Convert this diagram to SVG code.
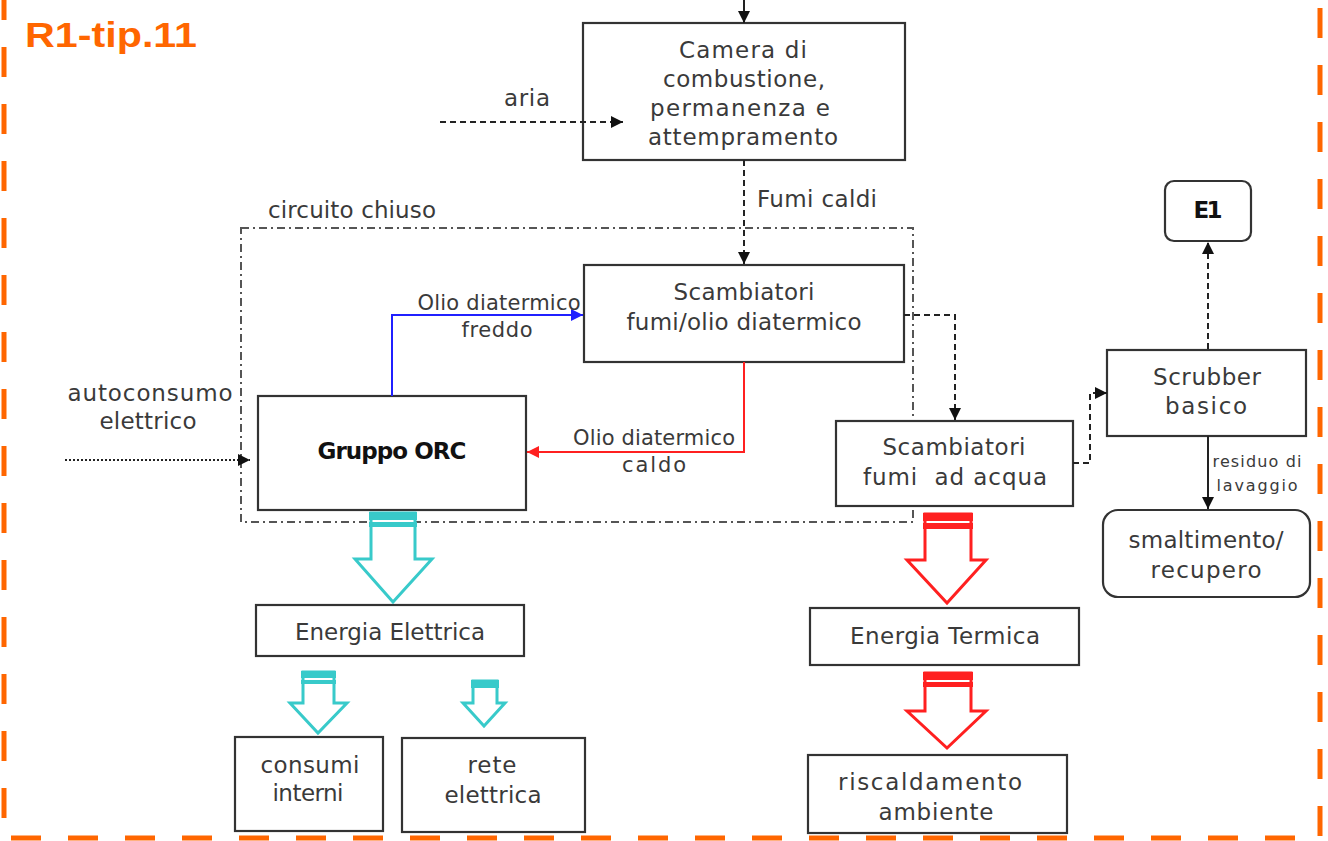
<svg xmlns="http://www.w3.org/2000/svg" width="1328" height="841" viewBox="0 0 1328 841">
<style>
.t{font-family:"DejaVu Sans","Liberation Sans",sans-serif;font-size:23px;fill:#3a3a3a;text-anchor:middle}
.s{font-size:21px}
.xs{font-size:16px}
.b{font-weight:bold;fill:#111}
.box{fill:#fff;stroke:#333;stroke-width:2.2}
.c{fill:none;stroke:#222;stroke-width:2}
.d{stroke-dasharray:6 4}
.dot{stroke-dasharray:2 2}
.dd{fill:none;stroke:#555;stroke-width:2;stroke-dasharray:8 4 2 4}
.cy{fill:#fff;stroke:#38CACA;stroke-width:3}
.cyf{fill:#38CACA}
.rd{fill:#fff;stroke:#FF2020;stroke-width:3}
.rdf{fill:#FF2020}
</style>
<defs>
<marker id="ab" viewBox="0 0 12 12" refX="12" refY="6" markerWidth="12" markerHeight="12" markerUnits="userSpaceOnUse" orient="auto"><path d="M0,0 L12,6 L0,12 z" fill="#111"/></marker>
<marker id="abl" viewBox="0 0 12 12" refX="12" refY="6" markerWidth="12" markerHeight="12" markerUnits="userSpaceOnUse" orient="auto"><path d="M0,0 L12,6 L0,12 z" fill="#2020FF"/></marker>
<marker id="ar" viewBox="0 0 12 12" refX="12" refY="6" markerWidth="12" markerHeight="12" markerUnits="userSpaceOnUse" orient="auto"><path d="M0,0 L12,6 L0,12 z" fill="#FF2020"/></marker>
</defs>
<rect width="1328" height="841" fill="#fff"/>
<g id="border">
<path d="M4,0 V838 H1320 V0" fill="none" stroke="#FF6600" stroke-width="5" stroke-dasharray="30 27" stroke-dashoffset="10"/>
<text x="25" y="47" font-family="Liberation Sans,sans-serif" font-weight="bold" font-size="35" fill="#FF6600" textLength="172" lengthAdjust="spacingAndGlyphs">R1-tip.11</text>
</g>
<g id="circuito">
<rect x="241" y="228" width="672" height="294" class="dd"/>
<text class="t" x="352" y="218" textLength="168">circuito chiuso</text>
</g>
<g id="camera">
<rect x="583" y="23" width="322" height="137" class="box"/>
<text class="t" x="743" y="58" textLength="128">Camera di</text>
<text class="t" x="744" y="87" textLength="162">combustione,</text>
<text class="t" x="740" y="116" textLength="180">permanenza e</text>
<text class="t" x="743" y="145" textLength="190">attempramento</text>
</g>
<g id="scamb-olio">
<rect x="584" y="265" width="320" height="97" class="box"/>
<text class="t" x="744" y="300" textLength="141">Scambiatori</text>
<text class="t" x="744" y="330" textLength="235">fumi/olio diatermico</text>
</g>
<g id="orc">
<rect x="258" y="396" width="268" height="114" class="box"/>
<text class="t b" x="392" y="459" textLength="149">Gruppo ORC</text>
</g>
<g id="scamb-acqua">
<rect x="836" y="421" width="237" height="85" class="box"/>
<text class="t" x="954" y="455" textLength="143">Scambiatori</text>
<text class="t" x="955" y="485" textLength="184" xml:space="preserve">fumi  ad acqua</text>
</g>
<g id="scrubber">
<rect x="1107" y="350" width="199" height="86" class="box"/>
<text class="t" x="1207" y="385" textLength="108">Scrubber</text>
<text class="t" x="1206" y="414" textLength="82">basico</text>
</g>
<g id="e1">
<rect x="1165" y="181" width="86" height="60" rx="9" class="box"/>
<text class="t b" x="1208" y="218" textLength="29">E1</text>
</g>
<g id="smaltimento">
<rect x="1103" y="510" width="207" height="87" rx="15" class="box"/>
<text class="t" x="1206" y="548" textLength="155">smaltimento/</text>
<text class="t" x="1206" y="578" textLength="111">recupero</text>
</g>
<g id="energia-elettrica">
<rect x="256" y="605" width="268" height="51" class="box"/>
<text class="t" x="390" y="640" textLength="190">Energia Elettrica</text>
</g>
<g id="consumi">
<rect x="235" y="737" width="148" height="94" class="box"/>
<text class="t" x="310" y="773" textLength="99">consumi</text>
<text class="t" x="308" y="801" textLength="71">interni</text>
</g>
<g id="rete">
<rect x="402" y="738" width="183" height="94" class="box"/>
<text class="t" x="492" y="773" textLength="49">rete</text>
<text class="t" x="493" y="803" textLength="97">elettrica</text>
</g>
<g id="energia-termica">
<rect x="810" y="608" width="269" height="57" class="box"/>
<text class="t" x="945" y="644" textLength="190">Energia Termica</text>
</g>
<g id="riscaldamento">
<rect x="808" y="755" width="259" height="78" class="box"/>
<text class="t" x="930" y="790" textLength="184">riscaldamento</text>
<text class="t" x="936" y="820" textLength="115">ambiente</text>
</g>
<g id="connectors">
<line x1="744" y1="0" x2="744" y2="23" class="c" marker-end="url(#ab)"/>
<line x1="440" y1="122" x2="623" y2="122" class="c d" marker-end="url(#ab)"/>
<line x1="744" y1="160" x2="744" y2="264" class="c d" marker-end="url(#ab)"/>
<polyline points="392,396 392,315 583,315" fill="none" stroke="#2020FF" stroke-width="2" marker-end="url(#abl)"/>
<polyline points="744,362 744,452 527,452" fill="none" stroke="#FF2020" stroke-width="2" marker-end="url(#ar)"/>
<polyline points="904,315 955,315 955,420" class="c d" marker-end="url(#ab)"/>
<polyline points="1073,463 1090,463 1090,393 1107,393" class="c d" marker-end="url(#ab)"/>
<line x1="1208" y1="349" x2="1208" y2="242" class="c d" marker-end="url(#ab)"/>
<line x1="1208" y1="436" x2="1208" y2="509" class="c" marker-end="url(#ab)"/>
<line x1="65" y1="460" x2="250" y2="460" class="c dot" marker-end="url(#ab)"/>
<text class="t" x="527" y="106" textLength="46">aria</text>
<text class="t" x="817" y="207" textLength="120">Fumi caldi</text>
<text class="t s" x="499" y="310" textLength="163">Olio diatermico</text>
<text class="t s" x="497" y="337" textLength="71">freddo</text>
<text class="t s" x="654" y="445" textLength="162">Olio diatermico</text>
<text class="t s" x="654" y="472" textLength="64">caldo</text>
<text class="t xs" x="1257" y="467" textLength="89">residuo di</text>
<text class="t xs" x="1257" y="491" textLength="81">lavaggio</text>
<text class="t" x="150" y="401" textLength="165">autoconsumo</text>
<text class="t" x="148" y="429" textLength="97">elettrico</text>
</g>
<g id="arrows">
<polygon points="371,513 415,513 415,559 432,559 393,602 355,559 371,559" class="cy"/>
<rect x="369" y="512" width="48" height="8" class="cyf"/>
<rect x="369" y="522" width="48" height="5" class="cyf"/>
<polygon points="303,672 334,672 334,703 347,703 318,733 290,703 303,703" class="cy"/>
<rect x="301" y="671" width="35" height="7" class="cyf"/>
<rect x="301" y="680" width="35" height="4" class="cyf"/>
<polygon points="473,681 497,681 497,703 505,703 484,726 463,703 473,703" class="cy"/>
<rect x="471" y="680" width="28" height="8" class="cyf"/>
<polygon points="925,514 971,514 971,560 986,560 947,603 907,560 925,560" class="rd"/>
<rect x="923" y="513" width="50" height="8" class="rdf"/>
<rect x="923" y="523" width="50" height="6" class="rdf"/>
<polygon points="925,673 971,673 971,711 986,711 947,748 907,711 925,711" class="rd"/>
<rect x="923" y="672" width="50" height="8" class="rdf"/>
<rect x="923" y="682" width="50" height="5" class="rdf"/>
</g>
</svg>
